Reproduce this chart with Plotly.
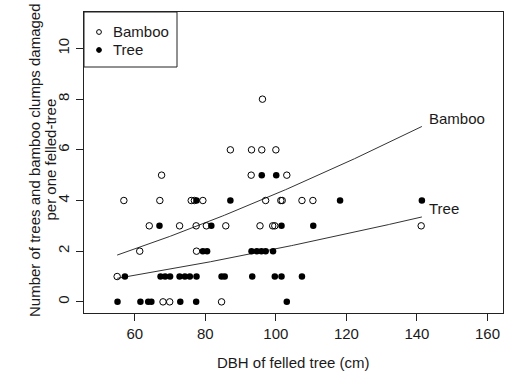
import numpy as np
import plotly.graph_objects as go

# ---- data ----
bamboo_dbh = [68.0, 69.9, 84.6,
              55.0,
              61.4, 77.5,
              64.1, 72.7, 77.4, 80.3, 85.8, 95.5, 99.1, 99.7, 141.2,
              56.9, 67.1, 76.0, 76.9, 79.3, 97.1, 101.4, 101.8, 107.4, 110.5,
              67.6, 93.0, 103.1,
              87.1, 93.1, 96.0, 100.0,
              96.2]
bamboo_n = [0, 0, 0,
            1,
            2, 2,
            3, 3, 3, 3, 3, 3, 3, 3, 3,
            4, 4, 4, 4, 4, 4, 4, 4, 4, 4,
            5, 5, 5,
            6, 6, 6, 6,
            8]

tree_dbh = [55.1, 61.6, 63.8, 64.7, 72.9, 77.4, 103.1,
            57.2, 67.3, 68.6, 70.0, 72.7, 74.2, 75.6, 77.5, 84.6, 85.5, 93.3, 99.7, 101.6, 107.4,
            79.3, 80.5, 93.1, 94.6, 95.9, 97.1, 99.2,
            67.0, 81.7, 101.6, 110.6,
            77.5, 87.1, 118.2, 141.4,
            96.0, 100.1]
tree_n = [0, 0, 0, 0, 0, 0, 0,
          1, 1, 1, 1, 1, 1, 1, 1, 1, 1, 1, 1, 1, 1,
          2, 2, 2, 2, 2, 2, 2,
          3, 3, 3, 3,
          4, 4, 4, 4,
          5, 5]

# fitted log-link curves: mu = exp(a + b*ln(DBH))
bamboo_coef = [-4.9975, 1.40]
tree_coef = [-5.525, 1.36]

x_ticks = [60, 80, 100, 120, 140, 160]
y_ticks = [0, 2, 4, 6, 8, 10]
series_names = ["Bamboo", "Tree"]

FONT = "Liberation Sans, Arial, sans-serif"
TXT = "#1a1a1a"

all_dbh = bamboo_dbh + tree_dbh
xs = np.linspace(min(all_dbh), max(all_dbh), 200)
bamboo_fit = np.exp(bamboo_coef[0] + bamboo_coef[1] * np.log(xs))
tree_fit = np.exp(tree_coef[0] + tree_coef[1] * np.log(xs))

fig = go.Figure()
fig.add_trace(go.Scatter(x=xs, y=bamboo_fit, mode="lines",
                         line=dict(color="#333333", width=1), showlegend=False, hoverinfo="skip"))
fig.add_trace(go.Scatter(x=xs, y=tree_fit, mode="lines",
                         line=dict(color="#333333", width=1), showlegend=False, hoverinfo="skip"))
fig.add_trace(go.Scatter(x=bamboo_dbh, y=bamboo_n, mode="markers", name=series_names[0],
                         marker=dict(symbol="circle-open", size=6.5, color="black",
                                     line=dict(width=1, color="black")), showlegend=False))
fig.add_trace(go.Scatter(x=tree_dbh, y=tree_n, mode="markers", name=series_names[1],
                         marker=dict(symbol="circle", size=6.5, color="black",
                                     line=dict(width=0)), showlegend=False))

W, H = 508, 375
L, R, T, B = 84, 5, 12, 62
pw, ph = W - L - R, H - T - B

def px(xp):
    return (xp - L) / pw

def py(yp):
    return 1 - (yp - T) / ph

shapes = []
annotations = []
# legend box
shapes.append(dict(type="rect", xref="paper", yref="paper", x0=0, x1=px(177), y0=py(67), y1=1,
                   line=dict(color="#222", width=1), fillcolor="white", layer="above"))
for i, (name, yp) in enumerate(zip(series_names, [32, 50])):
    shapes.append(dict(type="circle", xref="paper", yref="paper", xsizemode="pixel", ysizemode="pixel",
                       xanchor=px(99), yanchor=py(yp), x0=-2.4, x1=2.4, y0=-2.4, y1=2.4,
                       line=dict(color="black", width=1),
                       fillcolor="white" if i == 0 else "black", layer="above"))
    annotations.append(dict(xref="paper", yref="paper", x=px(111), y=py(yp), text=name,
                            showarrow=False, xanchor="left", yanchor="middle",
                            font=dict(family=FONT, size=15, color=TXT)))

# curve labels
for name, fit in zip(series_names, [bamboo_fit, tree_fit]):
    annotations.append(dict(x=xs[-1], y=fit[-1], text=name, showarrow=False,
                            xanchor="left", yanchor="middle", xshift=5, yshift=8,
                            font=dict(family=FONT, size=15, color=TXT)))

# axis titles
annotations.append(dict(xref="paper", yref="paper", x=0.5, y=py(362), text="DBH of felled tree (cm)",
                        showarrow=False, xanchor="center", yanchor="middle",
                        font=dict(family=FONT, size=15, color=TXT)))
annotations.append(dict(xref="paper", yref="paper", x=px(34), y=py(160),
                        text="Number of trees and bamboo clumps damaged", textangle=-90,
                        showarrow=False, xanchor="center", yanchor="middle",
                        font=dict(family=FONT, size=15, color=TXT)))
annotations.append(dict(xref="paper", yref="paper", x=px(49.5), y=py(160),
                        text="per one felled-tree", textangle=-90,
                        showarrow=False, xanchor="center", yanchor="middle",
                        font=dict(family=FONT, size=15, color=TXT)))

fig.update_layout(
    width=W, height=H,
    margin=dict(l=L, r=R, t=T, b=B, autoexpand=False),
    paper_bgcolor="white", plot_bgcolor="white",
    showlegend=False,
    shapes=shapes, annotations=annotations,
    font=dict(family=FONT, size=15, color=TXT),
    xaxis=dict(range=[45.6, 164.4], tickvals=x_ticks, ticks="outside", ticklen=7,
               tickcolor="#222", tickwidth=1, showgrid=False, zeroline=False,
               showline=True, linecolor="#222", linewidth=1, mirror=True,
               tickfont=dict(family=FONT, size=15, color=TXT)),
    yaxis=dict(range=[-0.44, 11.44], tickvals=y_ticks, ticks="outside", ticklen=7,
               tickcolor="#222", tickwidth=1, showgrid=False, zeroline=False,
               showline=True, linecolor="#222", linewidth=1, mirror=True, tickangle=-90,
               ticklabelstandoff=1,
               tickfont=dict(family=FONT, size=15, color=TXT)),
)

fig.write_html("out.html")
